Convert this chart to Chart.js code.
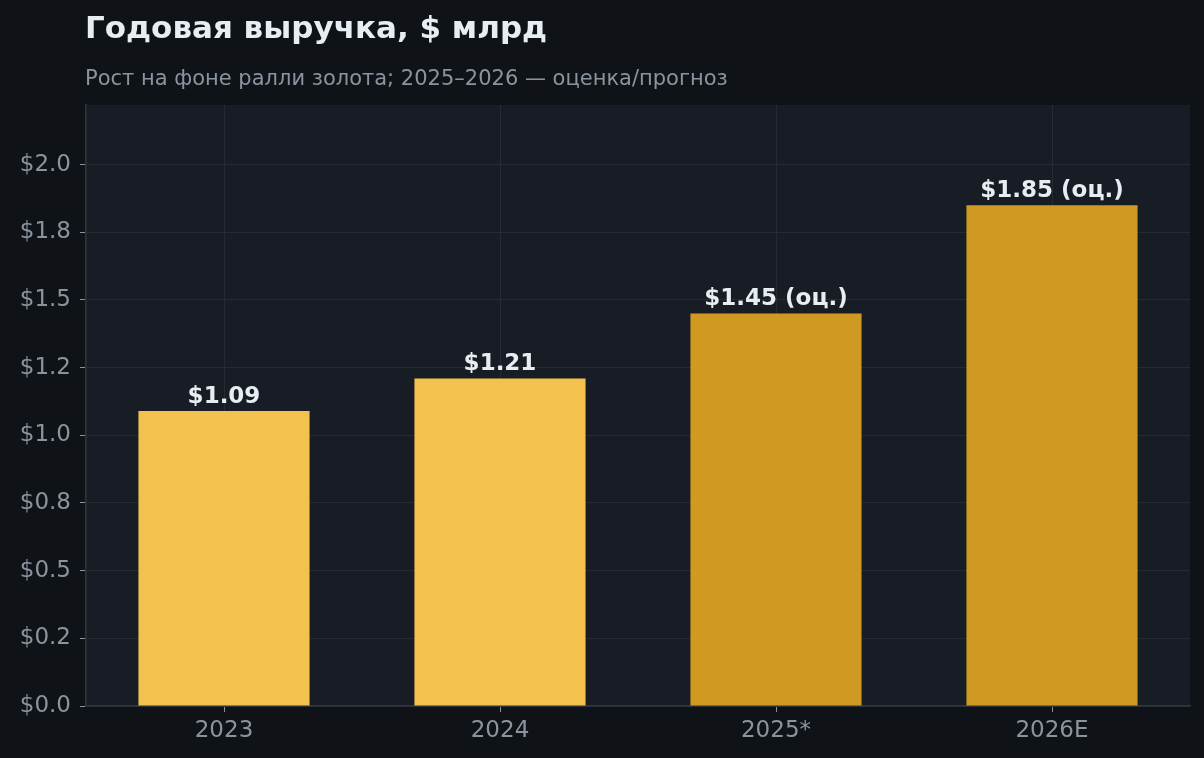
<!DOCTYPE html>
<html lang="ru">
<head>
<meta charset="utf-8">
<title>Годовая выручка, $ млрд</title>
<script src="https://cdn.jsdelivr.net/npm/chart.js@4.4.1/dist/chart.umd.min.js"></script>
<style>
  html, body { margin: 0; padding: 0; background: #0f1318; }
  #wrap { width: 1204px; height: 758px; position: relative; }
</style>
</head>
<body>
<div id="wrap"><canvas id="revenueChart"></canvas></div>
<script>
// данные
const YEARS = ['2023', '2024', '2025*', '2026E'];
const REVENUE = [1.09, 1.21, 1.45, 1.85];
const IS_ESTIMATE = [false, false, true, true];
const Y_TICKS = [0, 0.25, 0.5, 0.75, 1.0, 1.25, 1.5, 1.75, 2.0];
const Y_TICK_LABELS = ['$0.0', '$0.2', '$0.5', '$0.8', '$1.0', '$1.2', '$1.5', '$1.8', '$2.0'];
const Y_MAX = 2.22;

const TITLE = 'Годовая выручка, $ млрд';
const SUBTITLE = 'Рост на фоне ралли золота; 2025–2026 — оценка/прогноз';

const FONT = "'DejaVu Sans', sans-serif";
const GOLD = '#f2c14e';
const GOLD_DARK = '#d09922';
const TEXT_MAIN = '#e6edf3';
const TEXT_MUTED = '#8b949e';
const GRID = '#252a33';
const SPINE = '#30363d';

// фон фигуры и области графика
const backgroundPlugin = {
  id: 'backgrounds',
  beforeDraw(chart) {
    const { ctx, chartArea: a } = chart;
    ctx.save();
    ctx.fillStyle = '#0f1318';
    ctx.fillRect(0, 0, chart.width, chart.height);
    ctx.fillStyle = '#181c24';
    ctx.fillRect(a.left, a.top, a.right - a.left, a.bottom - a.top);
    ctx.restore();
  }
};

// заголовок и подзаголовок, выровненные по левому краю осей
const headerPlugin = {
  id: 'header',
  afterDraw(chart) {
    const { ctx, chartArea: a } = chart;
    ctx.save();
    ctx.textAlign = 'left';
    ctx.textBaseline = 'alphabetic';
    ctx.fillStyle = TEXT_MAIN;
    ctx.font = `bold 31px ${FONT}`;
    ctx.fillText(TITLE, a.left - 1, 38);
    ctx.fillStyle = TEXT_MUTED;
    ctx.font = `21px ${FONT}`;
    ctx.fillText(SUBTITLE, a.left - 1, 85);
    ctx.restore();
  }
};

// подписи значений над столбцами
const valueLabelPlugin = {
  id: 'valueLabels',
  afterDatasetsDraw(chart) {
    const { ctx } = chart;
    const meta = chart.getDatasetMeta(0);
    ctx.save();
    ctx.textAlign = 'center';
    ctx.textBaseline = 'alphabetic';
    ctx.fillStyle = TEXT_MAIN;
    ctx.font = `bold 23px ${FONT}`;
    meta.data.forEach((bar, i) => {
      const txt = '$' + REVENUE[i].toFixed(2) + (IS_ESTIMATE[i] ? ' (оц.)' : '');
      ctx.fillText(txt, bar.x, bar.y - 8);
    });
    ctx.restore();
  }
};

const ctx = document.getElementById('revenueChart').getContext('2d');

new Chart(ctx, {
  type: 'bar',
  data: {
    labels: YEARS,
    datasets: [{
      data: REVENUE,
      backgroundColor: IS_ESTIMATE.map(e => e ? GOLD_DARK : GOLD),
      borderWidth: 0,
      barPercentage: 0.62,
      categoryPercentage: 1.0
    }]
  },
  options: {
    responsive: true,
    maintainAspectRatio: false,
    animation: false,
    devicePixelRatio: 1,
    layout: { padding: { top: 105, right: 14, bottom: 0, left: 0 } },
    plugins: {
      legend: { display: false },
      tooltip: { enabled: false }
    },
    scales: {
      x: {
        offset: true,
        grid: { offset: false, color: GRID, lineWidth: 1, tickColor: TEXT_MUTED, tickLength: 6 },
        border: { display: true, color: SPINE, width: 1.5 },
        ticks: { color: TEXT_MUTED, font: { family: FONT, size: 23 }, padding: 5 },
        afterFit(scale) { scale.height = 52; }
      },
      y: {
        min: 0,
        max: Y_MAX,
        afterBuildTicks(scale) {
          scale.ticks = Y_TICKS.map(v => ({ value: v }));
        },
        grid: { color: GRID, lineWidth: 1, tickColor: TEXT_MUTED, tickLength: 6 },
        border: { display: true, color: SPINE, width: 1.5 },
        ticks: {
          color: TEXT_MUTED,
          font: { family: FONT, size: 23 },
          padding: 9,
          callback: (v, i) => Y_TICK_LABELS[i]
        },
        afterFit(scale) { scale.width = 86; }
      }
    }
  },
  plugins: [backgroundPlugin, headerPlugin, valueLabelPlugin]
});
</script>
</body>
</html>
